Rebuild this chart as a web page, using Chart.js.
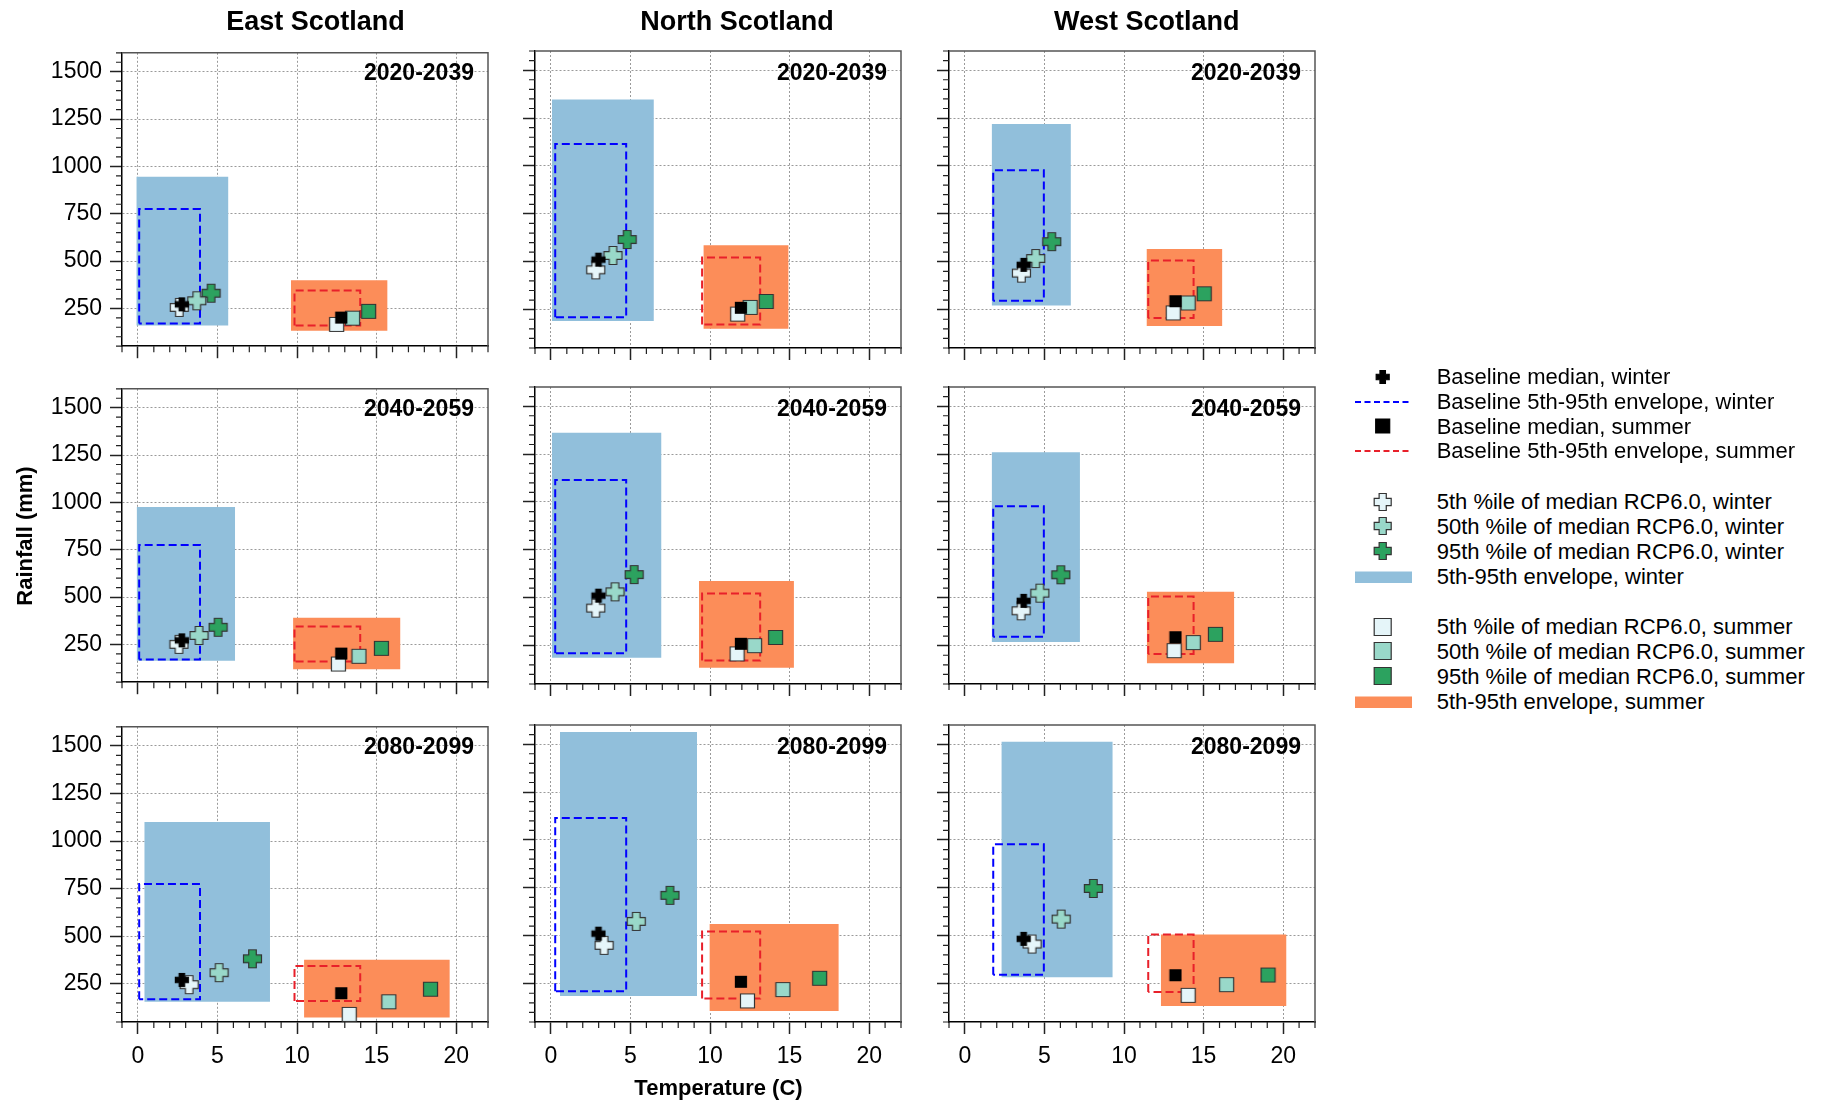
<!DOCTYPE html>
<html>
<head>
<meta charset="utf-8">
<script src="https://cdn.jsdelivr.net/npm/chart.js@4.4.0/dist/chart.umd.min.js"></script>
<style>
body { margin: 0; background: #fff; font-family: "Liberation Sans", Arial, sans-serif; }
#page { position: relative; width: 1825px; height: 1103px; overflow: hidden; }
.t { position: absolute; line-height: 1; white-space: nowrap; color: #000; }
canvas { position: absolute; }
</style>
</head>
<body>
<div id="page"></div>
<script>
// regions are columns, periods are rows
var regions = ['East Scotland', 'North Scotland', 'West Scotland'];
var periods = ['2020-2039', '2040-2059', '2080-2099'];
var xTicks = [0, 5, 10, 15, 20];
var yTicks = [250, 500, 750, 1000, 1250, 1500];

// baseline, one per region: envelopes are [tLow, tHigh, rainLow, rainHigh], medians [t, rain]
var baseWinterEnv = [[0.08, 3.9, 170, 775], [0.27, 4.73, 210, 1115], [1.78, 4.96, 297, 977]];
var baseSummerEnv = [[9.84, 13.97, 160, 344], [9.5, 13.15, 172, 522], [11.52, 14.37, 207, 506]];
var baseWinterMed = [[2.76, 271], [2.99, 511], [3.69, 484]];
var baseSummerMed = [[12.78, 201], [11.94, 260], [13.23, 294]];

// RCP6.0 5th-95th envelopes [region][period]
var winterEnv = [
  [[-0.1, 5.69, 160, 945], [-0.08, 6.11, 163, 976], [0.4, 8.3, 156, 1100]],
  [[0.06, 6.47, 191, 1347], [0.06, 6.95, 187, 1361], [0.57, 9.18, 186, 1563]],
  [[1.68, 6.66, 272, 1219], [1.68, 7.23, 269, 1260], [2.29, 9.29, 283, 1512]]
];
var summerEnv = [
  [[9.62, 15.69, 132, 398], [9.75, 16.5, 118, 391], [10.44, 19.6, 73, 377]],
  [[9.58, 14.94, 150, 586], [9.3, 15.27, 135, 587], [9.96, 18.09, 107, 561]],
  [[11.41, 16.18, 165, 567], [11.43, 16.93, 158, 531], [12.31, 20.21, 134, 507]]
];

// percentiles of median [region][period] = [t, rain]
var winterP5 = [
  [[2.6, 255], [2.58, 250], [3.22, 246]],
  [[2.82, 458], [2.82, 446], [3.34, 450]],
  [[3.55, 441], [3.53, 432], [4.22, 457]]
];
var winterP50 = [
  [[3.7, 290], [3.84, 297], [5.1, 309]],
  [[3.9, 533], [4.03, 531], [5.36, 575]],
  [[4.45, 517], [4.71, 524], [6.05, 587]]
];
var winterP95 = [
  [[4.6, 330], [5.04, 340], [7.2, 382]],
  [[4.79, 616], [5.23, 621], [7.48, 711]],
  [[5.46, 605], [6.03, 620], [8.07, 747]]
];
var summerP5 = [
  [[12.49, 165], [12.6, 146], [13.28, 90]],
  [[11.74, 227], [11.7, 207], [12.35, 160]],
  [[13.09, 233], [13.15, 224], [14.03, 189]]
];
var summerP50 = [
  [[13.49, 198], [13.89, 187], [15.77, 156]],
  [[12.52, 262], [12.8, 250], [14.58, 219]],
  [[14.03, 285], [14.35, 266], [16.45, 245]]
];
var summerP95 = [
  [[14.5, 234], [15.3, 229], [18.39, 222]],
  [[13.53, 293], [14.12, 293], [16.89, 278]],
  [[15.04, 333], [15.74, 309], [19.05, 295]]
];

var legendLabels = [
  'Baseline median, winter', 'Baseline 5th-95th envelope, winter',
  'Baseline median, summer', 'Baseline 5th-95th envelope, summer',
  '5th %ile of median RCP6.0, winter', '50th %ile of median RCP6.0, winter',
  '95th %ile of median RCP6.0, winter', '5th-95th envelope, winter',
  '5th %ile of median RCP6.0, summer', '50th %ile of median RCP6.0, summer',
  '95th %ile of median RCP6.0, summer', '5th-95th envelope, summer'
];

var C = {
  winterFill: '#91bfdb', summerFill: '#fc8d59',
  blue: '#0000ff', red: '#e8202a',
  p5: '#e5f5f9', p50: '#99d8c9', p95: '#2ca25f', edge: '#333333'
};
var FONT = '"Liberation Sans", Arial, sans-serif';

var page = document.getElementById('page');

function addText(txt, left, top, size, bold, extra) {
  var d = document.createElement('div');
  d.className = 't';
  d.textContent = txt;
  d.style.left = left + 'px';
  d.style.top = top + 'px';
  d.style.fontSize = size + 'px';
  d.style.fontWeight = bold ? 'bold' : 'normal';
  if (extra) for (var k in extra) d.style[k] = extra[k];
  page.appendChild(d);
  return d;
}

function drawShape(g, shape, s, fill, stroke) {
  var h = s / 2, t = s * 0.21;
  g.beginPath();
  if (shape === 'cross') {
    g.moveTo(-t, -h); g.lineTo(t, -h); g.lineTo(t, -t); g.lineTo(h, -t);
    g.lineTo(h, t); g.lineTo(t, t); g.lineTo(t, h); g.lineTo(-t, h);
    g.lineTo(-t, t); g.lineTo(-h, t); g.lineTo(-h, -t); g.lineTo(-t, -t);
    g.closePath();
  } else {
    g.rect(-h, -h, s, s);
  }
  g.fillStyle = fill;
  g.fill();
  g.lineWidth = 1.2;
  g.strokeStyle = stroke;
  g.stroke();
}

function marker(shape, size, fill, stroke) {
  var c = document.createElement('canvas');
  var n = Math.ceil(size) + 3;
  c.width = c.height = n;
  var g = c.getContext('2d');
  g.translate(n / 2, n / 2);
  drawShape(g, shape, size, fill, stroke);
  return c;
}

var mk = {
  baseCross: marker('cross', 13, '#000', '#000'),
  baseSquare: marker('rect', 11, '#000', '#000'),
  w5: marker('cross', 18, C.p5, C.edge),
  w50: marker('cross', 18, C.p50, C.edge),
  w95: marker('cross', 18, C.p95, C.edge),
  s5: marker('rect', 14, C.p5, C.edge),
  s50: marker('rect', 14, C.p50, C.edge),
  s95: marker('rect', 14, C.p95, C.edge)
};

function pt(p) { return [{x: p[0], y: p[1]}]; }
function rectTop(e) { return [{x: e[0], y: e[3]}, {x: e[1], y: e[3]}]; }
function rectPath(e) {
  return [{x: e[0], y: e[2]}, {x: e[0], y: e[3]}, {x: e[1], y: e[3]},
          {x: e[1], y: e[2]}, {x: e[0], y: e[2]}];
}

function envDs(e, color) {
  return {data: rectTop(e), showLine: true, fill: {value: e[2]}, backgroundColor: color,
          borderColor: 'rgba(0,0,0,0)', borderWidth: 0, pointRadius: 0, order: 3};
}
function dashDs(e, color) {
  return {data: rectPath(e), showLine: true, fill: false, borderColor: color,
          borderWidth: 2, borderDash: [8, 4], pointRadius: 0, order: 2};
}
function markDs(p, img, order) {
  return {data: pt(p), pointStyle: img, pointRadius: 8, showLine: false, order: order};
}

// minor ticks and the top/right frame, placed through the chart's scales
var frameTicks = {
  id: 'frameTicks',
  afterDraw: function (chart) {
    var ctx = chart.ctx, a = chart.chartArea, x = chart.scales.x, y = chart.scales.y;
    ctx.save();
    ctx.strokeStyle = '#555';
    ctx.lineWidth = 1.5;
    ctx.beginPath();
    ctx.moveTo(a.left, a.top);
    ctx.lineTo(a.right, a.top);
    ctx.lineTo(a.right, a.bottom);
    ctx.stroke();
    ctx.strokeStyle = '#222';
    ctx.lineWidth = 1.2;
    ctx.beginPath();
    for (var v = x.min; v <= x.max; v++) {
      if (v % 5 === 0) continue;
      var px = x.getPixelForValue(v);
      ctx.moveTo(px, a.bottom);
      ctx.lineTo(px, a.bottom + 6);
    }
    for (var w = y.min; w <= y.max; w += 50) {
      if (w % 250 === 0) continue;
      var py = y.getPixelForValue(w);
      ctx.moveTo(a.left - 6, py);
      ctx.lineTo(a.left, py);
    }
    ctx.stroke();
    ctx.restore();
  }
};

var colLeft = [122, 535, 949];
var rowTop = [51, 387, 725];
var plotW = 366, plotH = 297;

for (var r = 0; r < 3; r++) {
  for (var p = 0; p < 3; p++) {
    var yW = r === 0 ? 122 : 20;
    var xH = p === 2 ? 60 : 20;
    var cv = document.createElement('canvas');
    cv.width = yW + plotW + 20;
    cv.height = 20 + plotH + xH;
    cv.style.left = (colLeft[r] - yW) + 'px';
    cv.style.top = (rowTop[p] - 20) + 'px';
    cv.style.width = cv.width + 'px';
    cv.style.height = cv.height + 'px';
    page.appendChild(cv);

    var datasets = [
      markDs(baseWinterMed[r], mk.baseCross, 0),
      markDs(baseSummerMed[r], mk.baseSquare, 0),
      markDs(winterP5[r][p], mk.w5, 1),
      markDs(winterP50[r][p], mk.w50, 1),
      markDs(winterP95[r][p], mk.w95, 1),
      markDs(summerP5[r][p], mk.s5, 1),
      markDs(summerP50[r][p], mk.s50, 1),
      markDs(summerP95[r][p], mk.s95, 1),
      dashDs(baseWinterEnv[r], C.blue),
      dashDs(baseSummerEnv[r], C.red),
      envDs(winterEnv[r][p], C.winterFill),
      envDs(summerEnv[r][p], C.summerFill)
    ];

    (function (yW, xH, showX, showY) {
      new Chart(cv.getContext('2d'), {
        type: 'scatter',
        data: {datasets: datasets},
        options: {
          responsive: false,
          animation: false,
          events: [],
          layout: {padding: {top: 20, right: 20, left: 0, bottom: 0}},
          plugins: {legend: {display: false}, tooltip: {enabled: false}},
          scales: {
            x: {
              type: 'linear', min: -1, max: 22,
              afterBuildTicks: function (s) { s.ticks = xTicks.map(function (v) { return {value: v}; }); },
              afterFit: function (s) { s.height = xH; },
              ticks: {display: showX, padding: 9, color: '#000', font: {family: FONT, size: 23},
                      callback: function (v) { return String(v); }},
              grid: {color: '#9a9a9a', lineWidth: 1, tickLength: 12, tickColor: '#222', tickWidth: 1.5},
              border: {color: '#000', width: 1.5, dash: [2, 2]}
            },
            y: {
              type: 'linear', min: 50, max: 1600,
              afterBuildTicks: function (s) { s.ticks = yTicks.map(function (v) { return {value: v}; }); },
              afterFit: function (s) { s.width = yW; },
              ticks: {display: showY, padding: 8, color: '#000', font: {family: FONT, size: 23},
                      callback: function (v) { return String(v); }},
              grid: {color: '#9a9a9a', lineWidth: 1, tickLength: 12, tickColor: '#222', tickWidth: 1.5},
              border: {color: '#000', width: 1.5, dash: [2, 2]}
            }
          }
        },
        plugins: [frameTicks]
      });
    })(yW, xH, p === 2, r === 0);

    // period label, top right inside the panel
    addText(periods[p], 0, rowTop[p] + 10, 23, true,
      {left: 'auto', right: (1825 - (colLeft[r] + plotW - 14)) + 'px'});
  }
}

// column titles
var titleX = [315.5, 737, 1146.7];
for (var i = 0; i < 3; i++) {
  addText(regions[i], titleX[i] - 150, 8, 27, true, {width: '300px', textAlign: 'center'});
}

// axis titles
addText('Temperature (C)', 718.5 - 150, 1077, 22, true, {width: '300px', textAlign: 'center'});
addText('Rainfall (mm)', 25 - 100, 535.5 - 11, 22, true,
  {width: '200px', textAlign: 'center', transform: 'rotate(-90deg)'});

// legend
var legendY = [376.5, 401.7, 426.3, 451, 501.7, 526.3, 551.3, 576.7, 626.7, 651.3, 676.3, 701.7];
var legendSym = [
  ['mark', 'cross', 13, '#000', '#000'], ['dash', C.blue], ['mark', 'rect', 14, '#000', '#000'], ['dash', C.red],
  ['mark', 'cross', 17, C.p5, C.edge], ['mark', 'cross', 17, C.p50, C.edge], ['mark', 'cross', 17, C.p95, C.edge],
  ['band', C.winterFill],
  ['mark', 'rect', 17, C.p5, C.edge], ['mark', 'rect', 17, C.p50, C.edge], ['mark', 'rect', 17, C.p95, C.edge],
  ['band', C.summerFill]
];
for (var k = 0; k < legendLabels.length; k++) {
  var lc = document.createElement('canvas');
  lc.width = 64; lc.height = 22;
  lc.style.left = '1351px';
  lc.style.top = (legendY[k] - 11) + 'px';
  page.appendChild(lc);
  var g = lc.getContext('2d');
  var s = legendSym[k];
  if (s[0] === 'mark') {
    g.translate(31.7, 11);
    drawShape(g, s[1], s[2], s[3], s[4]);
  } else if (s[0] === 'dash') {
    g.strokeStyle = s[1];
    g.lineWidth = 2;
    g.setLineDash([6, 3.5]);
    g.beginPath(); g.moveTo(4, 11); g.lineTo(61, 11); g.stroke();
  } else {
    g.fillStyle = s[1];
    g.fillRect(4, 5.5, 57, 11.5);
  }
  addText(legendLabels[k], 1436.7, legendY[k] - 10.75, 22, false);
}
</script>
</body>
</html>
